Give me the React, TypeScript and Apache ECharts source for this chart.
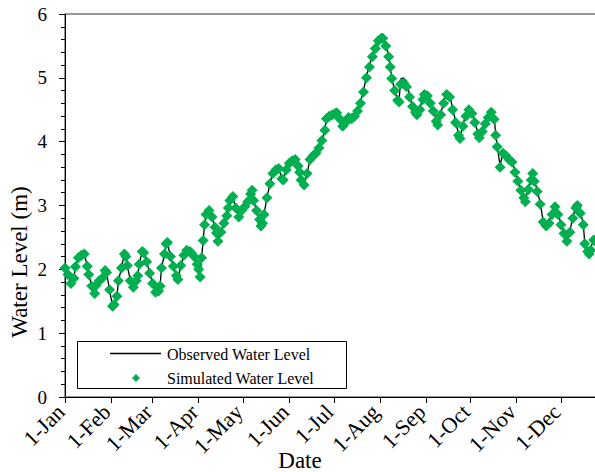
import React, { useEffect, useRef } from "react";
import * as echarts from "echarts";

// Day of year (0 = 1-Jan)
const days = [
  0, 2, 4, 6, 7, 9, 11, 13, 15, 16, 18, 20, 21, 23, 25, 27, 28, 30, 32, 33, 35, 36, 38, 40, 41, 42, 44, 46, 48, 49,
  50, 52, 53, 55, 57, 59, 61, 63, 64, 65, 67, 68, 69, 71, 73, 75, 76, 78, 80, 82, 84, 85, 87, 89, 90, 91, 92, 93, 94, 95,
  97, 99, 101, 102, 103, 105, 107, 109, 110, 111, 113, 115, 117, 119, 121, 123, 125, 126, 127, 129, 131, 132, 133, 134, 136, 138, 140, 142, 144, 146,
  147, 149, 151, 153, 155, 157, 158, 159, 161, 163, 165, 167, 169, 171, 173, 175, 176, 178, 180, 182, 183, 185, 187, 189, 191, 193, 195, 197, 199, 201,
  203, 205, 207, 209, 211, 213, 214, 216, 218, 219, 220, 222, 224, 225, 226, 228, 230, 232, 234, 236, 237, 239, 241, 242, 244, 246, 248, 250, 251, 253,
  255, 257, 259, 261, 263, 265, 266, 268, 270, 272, 274, 276, 278, 279, 281, 283, 285, 287, 289, 290, 291, 293, 295, 297, 299, 301, 303, 305, 307, 309,
  310, 312, 314, 315, 316, 318, 320, 322, 324, 326, 328, 330, 332, 334, 336, 338, 340, 342, 344, 345, 347, 349, 350, 352, 353, 354, 356, 358, 360, 362, 364,
];

const simulated = [
  2.02, 1.92, 1.78, 1.86, 2.04, 2.18, 2.22, 2.24, 2.05, 1.92, 1.74, 1.62, 1.75, 1.82, 1.86, 1.98, 1.95, 1.68, 1.42, 1.45, 1.58, 1.82, 2.02, 2.24, 2.2, 2.06, 1.82, 1.72, 1.82, 1.9,
  2.08, 2.28, 2.26, 2.12, 1.94, 1.78, 1.64, 1.66, 1.74, 2.02, 2.24, 2.4, 2.42, 2.2, 2.05, 1.9, 1.84, 2.06, 2.22, 2.3, 2.28, 2.26, 2.2, 2.08, 2.0, 1.88, 2.18, 2.45, 2.7, 2.86,
  2.92, 2.82, 2.66, 2.57, 2.44, 2.58, 2.72, 2.84, 2.96, 3.08, 3.14, 2.96, 2.82, 2.92, 2.98, 3.06, 3.18, 3.24, 3.08, 2.92, 2.78, 2.68, 2.72, 2.86, 3.12, 3.34, 3.5, 3.56, 3.58, 3.42,
  3.4, 3.56, 3.66, 3.7, 3.72, 3.62, 3.52, 3.4, 3.32, 3.5, 3.72, 3.78, 3.82, 3.9, 4.02, 4.18, 4.36, 4.4, 4.42, 4.44, 4.45, 4.36, 4.24, 4.3, 4.38, 4.36, 4.4, 4.48, 4.6, 4.78,
  5.0, 5.17, 5.33, 5.46, 5.58, 5.62, 5.62, 5.5, 5.33, 5.17, 4.99, 4.8, 4.65, 4.62, 4.9, 4.92, 4.86, 4.7, 4.55, 4.46, 4.42, 4.5, 4.66, 4.74, 4.72, 4.6, 4.48, 4.32, 4.26, 4.42,
  4.6, 4.74, 4.7, 4.5, 4.3, 4.1, 4.05, 4.24, 4.4, 4.5, 4.44, 4.3, 4.12, 4.06, 4.16, 4.28, 4.38, 4.46, 4.35, 4.1, 3.92, 3.6, 3.82, 3.78, 3.72, 3.68, 3.52, 3.38, 3.24, 3.12,
  3.06, 3.25, 3.4, 3.5, 3.38, 3.22, 3.02, 2.74, 2.68, 2.72, 2.86, 2.98, 2.86, 2.7, 2.56, 2.44, 2.58, 2.8, 2.96, 3.0, 2.88, 2.7, 2.4, 2.28, 2.24, 2.3, 2.46, 2.42, 2.38, 2.4, 2.36,
];

const observed = [
  2.02, 1.92, 1.78, 1.86, 2.04, 2.18, 2.22, 2.24, 2.05, 1.92, 1.74, 1.62, 1.75, 1.82, 1.86, 1.98, 1.95, 1.68, 1.42, 1.45, 1.58, 1.82, 2.02, 2.24, 2.2, 2.06, 1.82, 1.72, 1.82, 1.9,
  2.08, 2.28, 2.26, 2.12, 1.94, 1.78, 1.64, 1.66, 1.74, 2.02, 2.24, 2.4, 2.42, 2.2, 2.05, 1.9, 1.84, 2.06, 2.22, 2.3, 2.28, 2.26, 2.2, 2.08, 2.0, 1.88, 2.18, 2.45, 2.7, 2.86,
  2.92, 2.82, 2.66, 2.57, 2.44, 2.58, 2.72, 2.84, 2.96, 3.08, 3.14, 2.96, 2.82, 2.92, 2.98, 3.06, 3.18, 3.24, 3.08, 2.92, 2.78, 2.68, 2.72, 2.86, 3.12, 3.34, 3.5, 3.56, 3.58, 3.42,
  3.4, 3.56, 3.66, 3.7, 3.72, 3.62, 3.52, 3.4, 3.32, 3.5, 3.72, 3.78, 3.82, 3.9, 4.02, 4.18, 4.36, 4.42, 4.44, 4.5, 4.52, 4.38, 4.24, 4.34, 4.42, 4.38, 4.44, 4.5, 4.62, 4.8,
  5.02, 5.2, 5.36, 5.5, 5.62, 5.68, 5.68, 5.52, 5.35, 5.18, 5.0, 4.8, 4.66, 4.64, 4.98, 5.0, 4.95, 4.72, 4.56, 4.47, 4.44, 4.52, 4.7, 4.78, 4.78, 4.62, 4.5, 4.34, 4.28, 4.44,
  4.62, 4.8, 4.74, 4.52, 4.32, 4.12, 4.07, 4.26, 4.44, 4.55, 4.48, 4.32, 4.14, 4.08, 4.18, 4.3, 4.42, 4.5, 4.4, 4.12, 3.94, 3.62, 3.84, 3.84, 3.76, 3.7, 3.54, 3.4, 3.26, 3.14,
  3.08, 3.27, 3.44, 3.52, 3.4, 3.24, 3.04, 2.76, 2.7, 2.74, 2.88, 3.0, 2.88, 2.72, 2.58, 2.46, 2.6, 2.82, 2.98, 3.02, 2.9, 2.72, 2.42, 2.3, 2.26, 2.32, 2.48, 2.44, 2.4, 2.42, 2.38,
];

const monthStarts = [0, 31, 59, 90, 120, 151, 181, 212, 243, 273, 304, 334];
const monthLabels = ["1-Jan", "1-Feb", "1-Mar", "1-Apr", "1-May", "1-Jun", "1-Jul", "1-Aug", "1-Sep", "1-Oct", "1-Nov", "1-Dec"];

const legendNames = ["Observed Water Level", "Simulated Water Level"];
const FONT = "'Liberation Serif', 'Times New Roman', serif";
const GREEN = "#00b050";

export default function App() {
  const ref = useRef<HTMLDivElement>(null);
  useEffect(() => {
    if (!ref.current) return;
    const chart = echarts.init(ref.current, undefined, { renderer: "svg" });
    const obsData = days.map((d, i) => [d, observed[i]]);
    const simData = days.map((d, i) => [d, simulated[i]]);
    chart.setOption({
      animation: false,
      backgroundColor: "#fff",
      grid: {
        left: 65,
        right: -12,
        top: 14,
        bottom: 75,
        show: true,
        borderColor: "#333",
        borderWidth: 1,
        containLabel: false,
        outerBoundsMode: "none",
      },
      xAxis: {
        type: "value",
        min: 0,
        max: 365,
        axisLine: { show: true, onZero: false, lineStyle: { color: "#000", width: 1 } },
        axisTick: { show: true, inside: false, length: 6, customValues: monthStarts, lineStyle: { color: "#000" } },
        axisLabel: {
          customValues: monthStarts,
          rotate: 45,
          margin: 7,
          padding: [0, 6, 0, 0],
          color: "#000",
          fontFamily: FONT,
          fontSize: 22,
          formatter: (v: number) => monthLabels[monthStarts.indexOf(Math.round(v))] ?? "",
        },
        splitLine: { show: false },
      },
      yAxis: {
        type: "value",
        min: 0,
        max: 6,
        interval: 1,
        axisLine: { show: true, lineStyle: { color: "#000", width: 1 } },
        axisTick: { show: true, inside: false, length: 6, lineStyle: { color: "#000" } },
        minorTick: { show: true, splitNumber: 5, length: 4, lineStyle: { color: "#000" } },
        axisLabel: { color: "#000", fontFamily: FONT, fontSize: 19, margin: 18 },
        splitLine: { show: false },
      },
      series: [
        {
          name: legendNames[0],
          type: "line",
          data: obsData,
          showSymbol: false,
          lineStyle: { color: "#000", width: 1.3 },
          z: 2,
        },
        {
          name: legendNames[1],
          type: "scatter",
          data: simData,
          symbol: "diamond",
          symbolSize: 11,
          itemStyle: { color: GREEN, opacity: 1 },
          z: 3,
        },
      ],
      graphic: [
        {
          type: "text",
          x: 300,
          y: 460,
          style: { text: "Date", fontFamily: FONT, fontSize: 23, fill: "#000", align: "center", verticalAlign: "middle" },
        },
        {
          type: "text",
          x: 19,
          y: 262,
          rotation: Math.PI / 2,
          style: { text: "Water Level (m)", fontFamily: FONT, fontSize: 23, fill: "#000", align: "center", verticalAlign: "middle" },
        },
        {
          type: "group",
          z: 100,
          children: [
            { type: "rect", shape: { x: 77.5, y: 341.5, width: 269, height: 47 }, style: { fill: "#fff", stroke: "#000", lineWidth: 1 } },
            { type: "line", shape: { x1: 110, y1: 353.5, x2: 161, y2: 353.5 }, style: { stroke: "#000", lineWidth: 1.5 } },
            { type: "polygon", shape: { points: [[136, 374], [140, 378], [136, 382], [132, 378]] }, style: { fill: GREEN } },
            { type: "text", x: 167, y: 354, style: { text: legendNames[0], fontFamily: FONT, fontSize: 16, fill: "#000", verticalAlign: "middle" } },
            { type: "text", x: 167, y: 378, style: { text: legendNames[1], fontFamily: FONT, fontSize: 16, fill: "#000", verticalAlign: "middle" } },
          ],
        },
      ],
    });
    return () => chart.dispose();
  }, []);
  return <div ref={ref} style={{ width: 595, height: 472, position: "absolute", left: 0, top: 0 }} />;
}
